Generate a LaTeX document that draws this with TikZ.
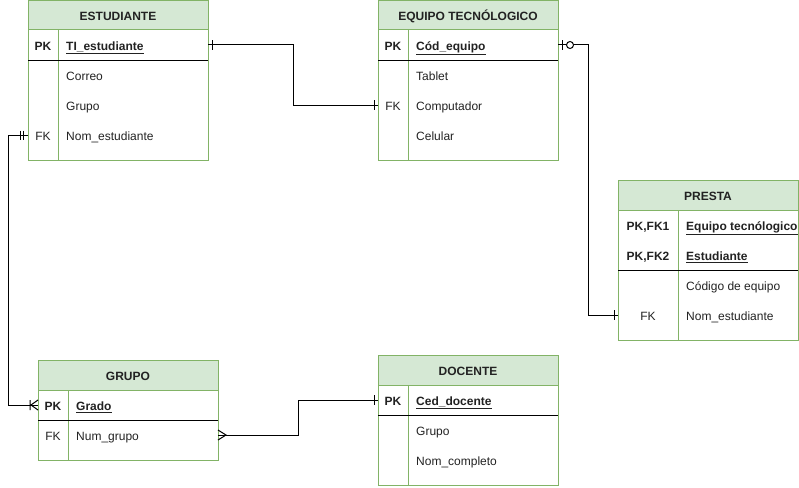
\documentclass[tikz,border=0pt]{standalone}
\usepackage{fontspec}
\setmainfont{Liberation Sans}
\usepackage{tikz}
\usetikzlibrary{calc,positioning}
\definecolor{tablegreen}{HTML}{82B366}
\definecolor{headerfill}{HTML}{D5E8D4}
\definecolor{textgray}{HTML}{222222}

\tikzset{
  rel/.style={draw=black,line width=1pt},
  tblline/.style={draw=tablegreen,line width=1pt},
  keyline/.style={draw=black,line width=1pt},
  title/.style={font=\fontsize{12}{14}\selectfont\bfseries,inner sep=0pt,text=textgray,yshift=-1pt},
  attr/.style={anchor=base west,inner sep=0pt,font=\fontsize{12}{14}\selectfont,text=textgray,yshift=-1pt},
  keycell/.style={anchor=base,inner sep=0pt,font=\fontsize{12}{14}\selectfont\bfseries,text=textgray,yshift=-1pt},
  fkcell/.style={anchor=base,inner sep=0pt,font=\fontsize{12}{14}\selectfont,text=textgray,yshift=-1pt},
  pics/one/.style={code={\draw[rel] (4pt,-5pt) -- (4pt,5pt);}},
  pics/onlyone/.style={code={\draw[rel] (4.5pt,-4.5pt) -- (4.5pt,4.5pt) (7.5pt,-4.5pt) -- (7.5pt,4.5pt);}},
  pics/zeroone/.style={code={\draw[rel] (4pt,-5pt) -- (4pt,5pt); \draw[rel,fill=white] (12pt,0) circle (3.5pt);}},
  pics/onemany/.style={code={\draw[rel] (8pt,-5pt) -- (8pt,5pt) (0,-5pt) -- (7pt,0) -- (0,5pt);}},
  pics/many/.style={code={\draw[rel] (0,-5pt) -- (8pt,0) -- (0,5pt);}},
}

\begin{document}
\begin{tikzpicture}[x=1pt,y=-1pt]
  \useasboundingbox (0,0) rectangle (799,487);

  % ESTUDIANTE
  \draw[tblline,fill=headerfill] (28,1) rectangle (208,30);
  \node[title] (estudiante) at (118,15.5) {ESTUDIANTE};
  \draw[tblline] (28,30) rectangle (208,160);
  \draw[tblline] (58,30) -- (58,160);
  \draw[keyline] (28,60) -- (208,60);
  \node[keycell] at (43,49.3) {PK};
  \node[attr] (tiest) at (66,49.3) {\bfseries\underline{TI\_estudiante}};
  \node[attr] at (66,79.3) {Correo};
  \node[attr] at (66,109.3) {Grupo};
  \node[fkcell] at (43,139.3) {FK};
  \node[attr] (nomest) at (66,139.3) {Nom\_estudiante};
  \coordinate (estPK) at (208,45);
  \coordinate (estFK) at (28,135);

  % EQUIPO TECNOLOGICO
  \draw[tblline,fill=headerfill] (378,1) rectangle (558,30);
  \node[title] (equipo) at (468,15.5) {EQUIPO TECNÓLOGICO};
  \draw[tblline] (378,30) rectangle (558,160);
  \draw[tblline] (408,30) -- (408,160);
  \draw[keyline] (378,60) -- (558,60);
  \node[keycell] at (393,49.3) {PK};
  \node[attr] (codeq) at (416,49.3) {\bfseries\underline{Cód\_equipo}};
  \node[attr] at (416,79.3) {Tablet};
  \node[fkcell] at (393,109.3) {FK};
  \node[attr] (comput) at (416,109.3) {Computador};
  \node[attr] at (416,139.3) {Celular};
  \coordinate (eqPK) at (558,45);
  \coordinate (eqFK) at (378,105);

  % PRESTA
  \draw[tblline,fill=headerfill] (618,180) rectangle (798,210);
  \node[title] (presta) at (708,195) {PRESTA};
  \draw[tblline] (618,210) rectangle (798,340);
  \draw[tblline] (678,210) -- (678,340);
  \draw[keyline] (618,270) -- (798,270);
  \node[keycell] at (648,229.3) {PK,FK1};
  \node[attr] at (686,229.3) {\bfseries\underline{Equipo tecnólogico}};
  \node[keycell] at (648,259.3) {PK,FK2};
  \node[attr] at (686,259.3) {\bfseries\underline{Estudiante}};
  \node[attr] at (686,289.3) {Código de equipo};
  \node[fkcell] at (648,319.3) {FK};
  \node[attr] (prnom) at (686,319.3) {Nom\_estudiante};
  \coordinate (prFK) at (618,315);

  % GRUPO
  \draw[tblline,fill=headerfill] (38,360) rectangle (218,390);
  \node[title] (grupo) at (128,375) {GRUPO};
  \draw[tblline] (38,390) rectangle (218,460);
  \draw[tblline] (68,390) -- (68,460);
  \draw[keyline] (38,420) -- (218,420);
  \node[keycell] at (53,409.3) {PK};
  \node[attr] (grado) at (76,409.3) {\bfseries\underline{Grado}};
  \node[fkcell] at (53,439.3) {FK};
  \node[attr] (numgr) at (76,439.3) {Num\_grupo};
  \coordinate (grPK) at (38,405);
  \coordinate (grFK) at (218,435);

  % DOCENTE
  \draw[tblline,fill=headerfill] (378,355) rectangle (558,385);
  \node[title] (docente) at (468,370) {DOCENTE};
  \draw[tblline] (378,385) rectangle (558,485);
  \draw[tblline] (408,385) -- (408,485);
  \draw[keyline] (378,415) -- (558,415);
  \node[keycell] at (393,404.3) {PK};
  \node[attr] (ceddoc) at (416,404.3) {\bfseries\underline{Ced\_docente}};
  \node[attr] at (416,434.3) {Grupo};
  \node[attr] at (416,464.3) {Nom\_completo};
  \coordinate (doPK) at (378,400);

  % relaciones
  \draw[rel] (estPK) -- ++(85,0) |- (eqFK);
  \draw[rel] (eqPK) -- ++(30,0) |- (prFK);
  \draw[rel] (estFK) -- ++(-20,0) |- (grPK);
  \draw[rel] (grFK) -- ++(80,0) |- (doPK);

  \pic at (estPK) {one};
  \pic[rotate=180] at (eqFK) {one};
  \pic at (eqPK) {zeroone};
  \pic[rotate=180] at (prFK) {one};
  \pic[rotate=180] at (estFK) {onlyone};
  \pic[rotate=180] at (grPK) {onemany};
  \pic at (grFK) {many};
  \pic[rotate=180] at (doPK) {one};
\end{tikzpicture}
\end{document}
